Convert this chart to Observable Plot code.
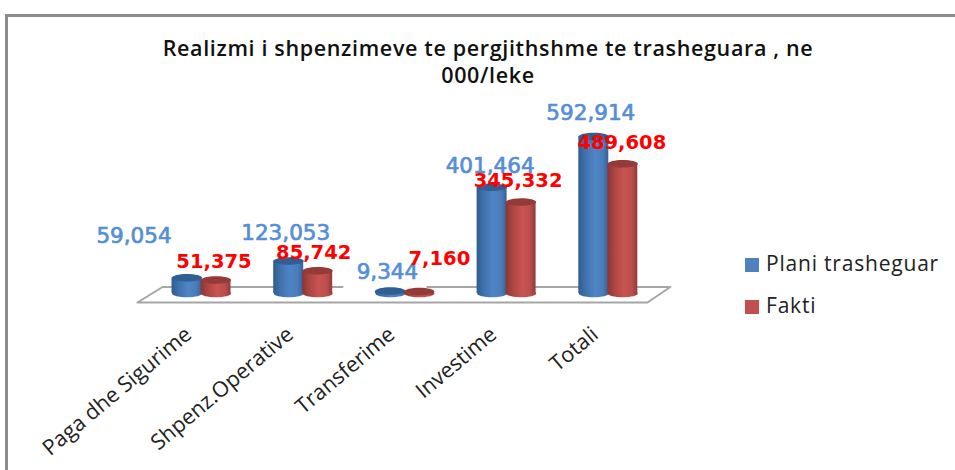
<!DOCTYPE html>
<html>
<head>
<meta charset="utf-8">
<script src="https://cdn.jsdelivr.net/npm/d3@7"></script>
<script src="https://cdn.jsdelivr.net/npm/@observablehq/plot@0.6"></script>
<style>
  html, body { margin: 0; padding: 0; background: #fff; }
  #page { position: relative; width: 955px; height: 470px; overflow: hidden; }
  #frame { position: absolute; left: 5px; top: 14px; width: 990px; height: 500px; border-left: 3px solid #8c8c8c; border-top: 3px solid #8c8c8c; }
  #title { position: absolute; left: 38px; width: 900px; top: 35px; text-align: center; font: 600 21.5px/26.5px "Open Sans", sans-serif; letter-spacing: 0.65px; color: #111; }
  .lg { position: absolute; left: 745px; font: 400 21px/24px "Open Sans", sans-serif; letter-spacing: 0.8px; color: #222; white-space: nowrap; }
  .lg i { display: inline-block; width: 14px; height: 14px; margin-right: 7px; vertical-align: -1px; }
  #chart { position: absolute; left: 0; top: 0; }
</style>
</head>
<body>
<div id="page">
  <div id="frame"></div>
  <div id="chart"></div>
  <div id="title">Realizmi i shpenzimeve te pergjithshme te trasheguara , ne<br>000/leke</div>
  <div id="legend"></div>
</div>
<script>
const categories = ["Paga dhe Sigurime", "Shpenz.Operative", "Transferime", "Investime", "Totali"];
const planValues = [59054, 123053, 9344, 401464, 592914];
const faktiValues = [51375, 85742, 7160, 345332, 489608];
const seriesNames = ["Plani trasheguar", "Fakti"];
const seriesColors = ["#4f81bd", "#c0504d"];

// Layout only: how far each value label sits from the top of its column.
const planNudge = [[-53, -42], [-3, -28], [-3, -19], [-2, -21], [-3, -23]];
const faktiNudge = [[-2, -18], [-4, -18], [20, -33], [-3, -21], [-1, -21]];

const planRows = categories.map((c, i) => ({c, i, pos: i - 0.1425, v: planValues[i]}));
const faktiRows = categories.map((c, i) => ({c, i, pos: i + 0.1425, v: faktiValues[i]}));
const halfBar = 0.1475;

// Category 0 centre at x=201, spacing 101.7px; baseline y=293.
const xScale = {domain: [-201 / 101.7, (955 - 201) / 101.7], range: [0, 955]};
const yScale = {domain: [0, 592914], range: [293, 136]};

// Floor outline in chart units (NaN breaks the back edge where the source has a gap).
const floorX = [-0.63, 4.385, 4.61, 2.22, NaN, 1.386, -0.383, -0.63];
const floorY = [-34000, -34000, 24500, 24500, NaN, 24500, 24500, -34000];
const floorRows = floorX.map((x, i) => ({x, y: floorY[i]}));

const ellipse = {
  draw(ctx, size) {
    const rx = Math.sqrt(size / Math.PI), ry = rx * 0.25, k = 0.5523;
    ctx.moveTo(-rx, 0);
    ctx.bezierCurveTo(-rx, -ry * k, -rx * k, -ry, 0, -ry);
    ctx.bezierCurveTo(rx * k, -ry, rx, -ry * k, rx, 0);
    ctx.bezierCurveTo(rx, ry * k, rx * k, ry, 0, ry);
    ctx.bezierCurveTo(-rx * k, ry, -rx, ry * k, -rx, 0);
    ctx.closePath();
  }
};

function gradient(id, stops) {
  const g = d3.create("svg:linearGradient").attr("id", id);
  stops.forEach(([o, c]) => g.append("stop").attr("offset", o).attr("stop-color", c));
  return g.node();
}
const defs = () => {
  const d = d3.create("svg:defs");
  d.append(() => gradient("gBlue", [[0, "#2f5c8f"], [0.22, "#3f70aa"], [0.55, "#4f85c6"], [0.82, "#4a7cb8"], [1, "#34639a"]]));
  d.append(() => gradient("gRed", [[0, "#8a3634"], [0.22, "#ab4441"], [0.55, "#c95451"], [0.82, "#bb4e4b"], [1, "#923a38"]]));
  return d.node();
};

function column(rows, fill, cap) {
  return [
    Plot.dot(rows, {x: "pos", y: () => 0, r: 15, symbol: ellipse, fill, stroke: "none"}),
    Plot.rect(rows, {x1: d => d.pos - halfBar, x2: d => d.pos + halfBar, y1: () => 0, y2: "v", fill}),
    Plot.dot(rows, {x: "pos", y: "v", r: 15, symbol: ellipse, fill: cap, stroke: "none"})
  ];
}

function valueLabels(rows, nudge, color, weight, extra) {
  return rows.map((d, i) => Plot.text([d], {
    x: "pos", y: "v", text: r => d3.format(",")(r.v),
    dx: nudge[i][0], dy: nudge[i][1],
    fill: color, fontFamily: "DejaVu Sans", fontWeight: weight,
    textAnchor: "middle", lineAnchor: "middle", ...extra
  }));
}

const chart = Plot.plot({
  width: 955, height: 470,
  marginTop: 0, marginRight: 0, marginBottom: 0, marginLeft: 0,
  x: {...xScale, axis: null},
  y: {...yScale, axis: null},
  style: {background: "transparent", overflow: "visible"},
  marks: [
    defs,
    Plot.line(floorRows, {x: "x", y: "y", stroke: "#a6a6a6", strokeWidth: 2, curve: "linear", defined: d => !isNaN(d.x)}),
    ...column(planRows, "url(#gBlue)", "#2f5f93"),
    ...column(faktiRows, "url(#gRed)", "#943b39"),
    Plot.text(categories, {
      x: (d, i) => i, y: () => 0, text: d => d,
      dx: -13, dy: 38, rotate: -40,
      textAnchor: "end", lineAnchor: "middle",
      fontFamily: "Open Sans", fontSize: 21.5, fill: "#222"
    }),
    ...valueLabels(planRows, planNudge, "#558ed5", 400, {fontSize: 21.5, stroke: "#558ed5", strokeWidth: 0.7}),
    ...valueLabels(faktiRows, faktiNudge, "#ff0000", 700, {fontSize: 19.5})
  ]
});
document.getElementById("chart").append(chart);

const legendTops = [251, 293];
const lg = document.getElementById("legend");
seriesNames.forEach((n, i) => {
  const el = document.createElement("div");
  el.className = "lg";
  el.style.top = legendTops[i] + "px";
  const sw = document.createElement("i");
  sw.style.background = seriesColors[i];
  el.append(sw, n);
  lg.append(el);
});
</script>
</body>
</html>
